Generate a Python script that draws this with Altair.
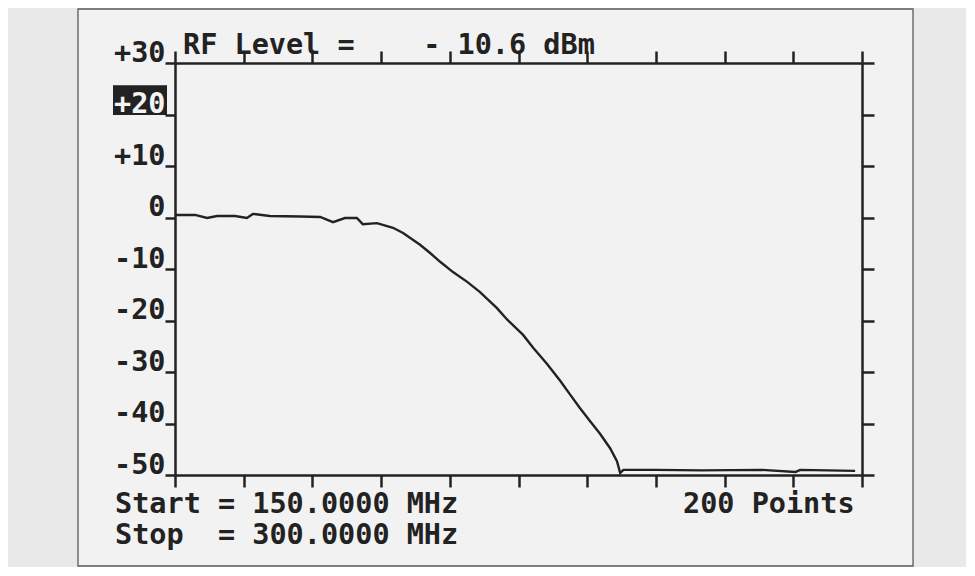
import altair as alt
import pandas as pd

# ---- data ----
freq_mhz = [150.0, 154.4, 157.0, 159.2, 163.1, 165.7, 167.0, 170.7, 177.3, 181.7,
            184.5, 187.1, 189.7, 191.0, 194.1, 197.6, 199.8, 203.5, 205.7, 207.9,
            210.7, 213.8, 216.6, 220.3, 222.5, 226.0, 228.2, 231.2, 234.1, 236.2,
            238.4, 240.6, 242.8, 245.0, 246.5, 247.2, 247.9, 255.0, 265.0, 278.0,
            285.5, 286.5, 298.5]
level_db = [0.5, 0.5, -0.1, 0.3, 0.3, -0.1, 0.7, 0.3, 0.2, 0.1,
            -0.9, -0.1, -0.1, -1.3, -1.1, -2.0, -3.0, -5.3, -6.9, -8.6,
            -10.6, -12.5, -14.5, -17.6, -19.8, -22.8, -25.3, -28.4, -31.7, -34.3,
            -37.0, -39.5, -42.0, -44.8, -47.3, -49.6, -49.0, -49.0, -49.1, -49.0,
            -49.4, -49.0, -49.2]
x_ticks = [150, 165, 180, 195, 210, 225, 240, 255, 270, 285, 300]
y_ticks = [-50, -40, -30, -20, -10, 0, 10, 20, 30]
highlight_tick = 20
title_text = "RF Level =    - 10.6 dBm"
start_text = "Start = 150.0000 MHz"
stop_text = "Stop  = 300.0000 MHz"
points_text = "200 Points"

df = pd.DataFrame({"f": freq_mhz, "l": level_db})

W, H = 687, 412
FONT = "DejaVu Sans Mono"
INK = "#222222"
FS = 28.5
NBSP = "\u00a0"

x_scale = alt.Scale(domain=[150, 300], nice=False, zero=False)
y_scale = alt.Scale(domain=[-50, 30], nice=False, zero=False)

common = dict(grid=False, domain=True, domainColor=INK, domainWidth=2.5,
              ticks=True, tickColor=INK, tickWidth=2.5, title=None, zindex=1)

# paper sheet
paper = alt.Chart(pd.DataFrame({"a": [0]})).mark_rect(
    fill="#f2f2f2", stroke="#5a5a5a", strokeWidth=1.3
).encode(x=alt.value(-97), x2=alt.value(738), y=alt.value(-54), y2=alt.value(H + 91))

# highlight box behind "+20"
box = alt.Chart(pd.DataFrame({"a": [0]})).mark_rect(fill=INK).encode(
    x=alt.value(-62), x2=alt.value(-8),
    y=alt.YDatum(highlight_tick - 0.1, scale=y_scale, axis=None),
    y2=alt.Y2Datum(highlight_tick + 5.7),
)

line = alt.Chart(df).mark_line(color=INK, strokeWidth=2.4).encode(
    x=alt.X("f:Q", scale=x_scale,
            axis=alt.Axis(orient="bottom", values=x_ticks, tickSize=12, labels=False, **common)),
    y=alt.Y("l:Q", scale=y_scale,
            axis=alt.Axis(orient="left", values=y_ticks, tickSize=10,
                          labelExpr="datum.value > 0 ? '+' + datum.value : '' + datum.value",
                          labelColor={"expr": f"datum.value == {highlight_tick} ? '#f4f4f4' : '{INK}'"},
                          labelFont=FONT, labelFontSize=FS, labelFontWeight="bold",
                          labelBaseline="alphabetic", labelAlign="right",
                          labelPadding=0, labelOffset=-2, **common)),
)

frame = alt.Chart(df).mark_line(opacity=0).encode(
    x=alt.X("f:Q", scale=x_scale,
            axis=alt.Axis(orient="top", values=x_ticks, tickSize=12, labels=False, **common)),
    y=alt.Y("l:Q", scale=y_scale,
            axis=alt.Axis(orient="right", values=y_ticks, tickSize=12, labels=False, **common)),
)

def label(txt, x, y):
    return alt.Chart(pd.DataFrame({"t": [txt.replace(" ", NBSP)]})).mark_text(
        font=FONT, fontSize=FS, fontWeight="bold", color=INK,
        align="left", baseline="alphabetic"
    ).encode(text="t:N", x=alt.value(x), y=alt.value(y))

texts = [
    label(title_text, 8, -9),
    label(start_text, -60, H + 38),
    label(stop_text, -60, H + 69),
    label(points_text, 508, H + 38),
]

chart = alt.layer(paper, box, line, frame, *texts).resolve_axis(
    x="independent", y="independent"
).properties(
    width=W, height=H,
    background="#e9e9e9",
    padding={"left": 167, "top": 55, "right": 104, "bottom": 92},
    autosize=alt.AutoSizeParams(type="none"),
).configure_view(stroke=None)

chart.save("out.html", embed_options={"renderer": "svg", "actions": False})
